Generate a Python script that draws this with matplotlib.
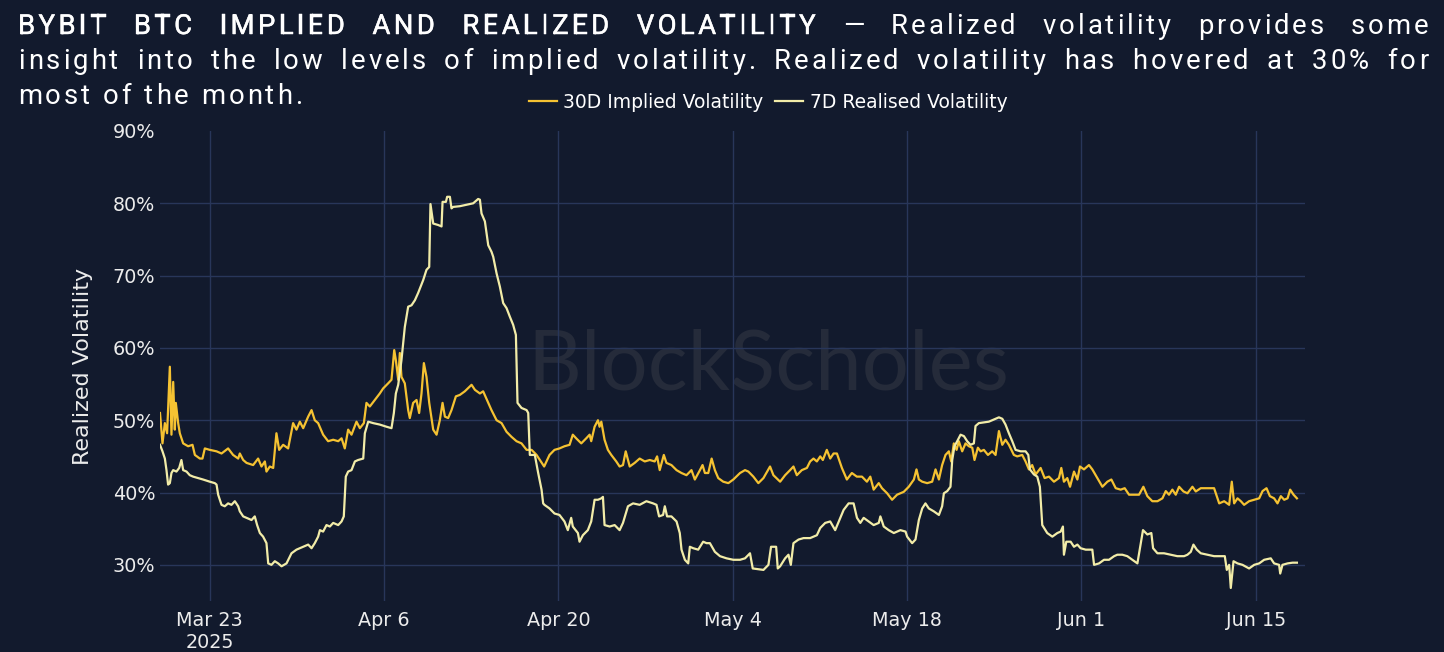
import numpy as np
import matplotlib
matplotlib.use("Agg")
import matplotlib.pyplot as plt
import matplotlib.patheffects as pe
from matplotlib import font_manager, ft2font
from matplotlib.lines import Line2D

# day offsets from 2025-03-23, volatility in %
iv_points = [
    (-4.0, 51.0), (-3.80, 46.8), (-3.61, 49.6), (-3.43, 48.2), (-3.21, 57.4), (-3.08, 48.0), (-2.94, 55.3),
    (-2.81, 48.7), (-2.73, 52.4), (-2.54, 49.6), (-2.41, 48.2), (-2.14, 46.8), (-1.74, 46.4), (-1.39, 46.6),
    (-1.20, 45.2), (-0.80, 44.7), (-0.59, 44.7), (-0.40, 46.1), (0.0, 45.9), (0.54, 45.7), (0.94, 45.4),
    (1.47, 46.1), (1.87, 45.2), (2.28, 44.7), (2.41, 45.4), (2.68, 44.5), (2.95, 44.1), (3.48, 43.8),
    (3.88, 44.7), (4.15, 43.6), (4.42, 44.3), (4.55, 42.9), (4.82, 43.6), (5.09, 43.4), (5.35, 48.2),
    (5.57, 45.9), (5.89, 46.6), (6.29, 46.1), (6.69, 49.6), (6.96, 48.7), (7.23, 49.8), (7.50, 48.9),
    (7.90, 50.5), (8.17, 51.4), (8.43, 50.0), (8.70, 49.6), (9.10, 48.0), (9.50, 47.1), (9.91, 47.3),
    (10.31, 47.1), (10.58, 47.5), (10.84, 46.1), (11.11, 48.7), (11.38, 48.0), (11.78, 49.8), (12.05, 48.9),
    (12.37, 49.6), (12.58, 52.4), (12.85, 51.9), (13.25, 52.8), (13.65, 53.7), (13.92, 54.4), (14.32, 55.1),
    (14.59, 55.6), (14.81, 59.7), (14.94, 58.3), (15.13, 55.6), (15.26, 59.3), (15.39, 56.0), (15.66, 55.1),
    (15.93, 51.4), (16.06, 50.3), (16.33, 52.4), (16.60, 52.8), (16.81, 51.0), (17.00, 53.7), (17.19, 57.9),
    (17.40, 56.0), (17.62, 52.4), (17.94, 48.7), (18.21, 48.0), (18.47, 50.0), (18.69, 52.4), (18.88, 50.5),
    (19.14, 50.3), (19.41, 51.4), (19.76, 53.3), (20.08, 53.5), (20.48, 54.0), (21.02, 54.9), (21.29, 54.2),
    (21.69, 53.7), (21.95, 54.0), (22.36, 52.4), (22.62, 51.4), (23.03, 50.0), (23.43, 49.6), (23.83, 48.4),
    (24.23, 47.7), (24.63, 47.1), (25.03, 46.8), (25.44, 45.9), (25.84, 45.9), (26.24, 45.2), (26.85, 43.6),
    (27.28, 45.2), (27.68, 45.9), (28.08, 46.1), (28.48, 46.4), (28.89, 46.6), (29.15, 48.0), (29.42, 47.5),
    (29.83, 46.8), (30.23, 47.5), (30.50, 48.0), (30.63, 47.1), (30.90, 49.1), (31.17, 50.0), (31.30, 49.1),
    (31.44, 49.8), (31.70, 47.3), (31.97, 45.9), (32.24, 45.2), (32.64, 44.3), (32.91, 43.6), (33.18, 43.8),
    (33.40, 45.7), (33.58, 44.5), (33.72, 43.6), (34.12, 44.1), (34.52, 44.7), (34.93, 44.3), (35.33, 44.5),
    (35.73, 44.3), (35.92, 45.0), (36.13, 43.1), (36.46, 45.2), (36.67, 44.1), (37.07, 43.8), (37.48, 43.1),
    (37.88, 42.7), (38.28, 42.4), (38.68, 43.1), (38.95, 41.8), (39.36, 43.1), (39.57, 43.8), (39.76, 42.7),
    (40.03, 42.7), (40.30, 44.7), (40.56, 43.1), (40.83, 42.0), (41.23, 41.5), (41.64, 41.3), (42.04, 41.8),
    (42.58, 42.7), (42.98, 43.1), (43.25, 42.9), (43.65, 42.2), (44.05, 41.3), (44.46, 42.0), (44.99, 43.6),
    (45.26, 42.4), (45.80, 41.5), (46.20, 42.4), (46.60, 43.1), (46.87, 43.6), (47.14, 42.4), (47.54, 43.1),
    (47.95, 43.4), (48.21, 44.3), (48.48, 44.7), (48.75, 44.3), (49.02, 45.0), (49.23, 44.5), (49.55, 45.9),
    (49.82, 44.7), (50.09, 45.4), (50.36, 45.4), (50.76, 43.4), (51.16, 41.8), (51.56, 42.7), (51.96, 42.2),
    (52.37, 42.2), (52.77, 41.5), (53.04, 42.2), (53.31, 40.4), (53.72, 41.3), (53.98, 40.6), (54.39, 39.9),
    (54.79, 39.0), (55.19, 39.7), (55.73, 40.1), (56.13, 40.8), (56.54, 41.8), (56.75, 43.2), (56.94, 41.8),
    (57.21, 41.5), (57.61, 41.3), (58.01, 41.5), (58.28, 43.2), (58.55, 41.8), (58.81, 43.8), (59.08, 45.2),
    (59.35, 45.7), (59.54, 44.3), (59.75, 46.8), (59.97, 45.9), (60.15, 47.1), (60.42, 45.7), (60.69, 46.8),
    (60.96, 46.4), (61.23, 46.2), (61.41, 44.5), (61.68, 46.2), (61.90, 45.7), (62.16, 45.9), (62.49, 45.2),
    (62.83, 45.7), (63.10, 45.2), (63.37, 48.5), (63.64, 46.6), (63.90, 47.3), (64.17, 46.6), (64.57, 45.2),
    (64.84, 45.0), (65.24, 45.2), (65.51, 44.3), (65.78, 43.2), (66.04, 43.8), (66.32, 42.5), (66.72, 43.4),
    (67.04, 42.0), (67.39, 42.2), (67.79, 41.5), (68.19, 42.0), (68.38, 43.4), (68.59, 41.5), (68.86, 42.0),
    (69.08, 40.8), (69.40, 42.9), (69.67, 41.8), (69.88, 43.6), (70.20, 43.2), (70.60, 43.8), (70.87, 43.2),
    (71.27, 42.0), (71.68, 40.8), (72.08, 41.5), (72.40, 41.8), (72.75, 40.6), (73.15, 40.4), (73.47, 40.6),
    (73.82, 39.7), (74.22, 39.7), (74.62, 39.7), (74.97, 40.8), (75.29, 39.5), (75.69, 38.8), (76.10, 38.8),
    (76.50, 39.2), (76.77, 40.2), (77.03, 39.7), (77.30, 40.4), (77.57, 39.7), (77.84, 40.8), (78.19, 40.15),
    (78.51, 39.9), (78.91, 40.8), (79.18, 40.15), (79.58, 40.6), (80.12, 40.6), (80.65, 40.6), (81.06, 38.5),
    (81.46, 38.8), (81.86, 38.3), (82.07, 41.5), (82.26, 38.5), (82.53, 39.2), (82.80, 38.8), (83.06, 38.3),
    (83.46, 38.8), (83.87, 39.0), (84.27, 39.2), (84.54, 40.2), (84.86, 40.6), (85.13, 39.5), (85.47, 39.2),
    (85.74, 38.5), (86.01, 39.5), (86.28, 39.0), (86.55, 39.2), (86.76, 40.4), (87.03, 39.7), (87.30, 39.2),
]

rv_points = [
    (-4.0, 46.6), (-3.80, 45.7), (-3.61, 44.7), (-3.48, 43.1), (-3.35, 41.1), (-3.21, 41.3), (-3.08, 42.7),
    (-2.94, 43.1), (-2.68, 42.9), (-2.46, 43.4), (-2.28, 44.5), (-2.14, 43.1), (-1.87, 42.9), (-1.61, 42.4),
    (-1.34, 42.2), (-0.94, 42.0), (-0.54, 41.8), (0.0, 41.5), (0.40, 41.3), (0.54, 41.1), (0.67, 39.7),
    (0.94, 38.3), (1.20, 38.1), (1.47, 38.5), (1.74, 38.3), (2.01, 38.8), (2.28, 38.1), (2.41, 37.4),
    (2.68, 36.7), (2.95, 36.5), (3.35, 36.2), (3.61, 36.7), (3.80, 35.5), (4.02, 34.4), (4.28, 33.9),
    (4.55, 33.0), (4.69, 30.2), (4.95, 30.0), (5.22, 30.5), (5.49, 30.2), (5.76, 29.8), (6.16, 30.2),
    (6.56, 31.6), (6.96, 32.1), (7.50, 32.5), (7.90, 32.8), (8.17, 32.3), (8.43, 33.0), (8.70, 33.9),
    (8.84, 34.8), (9.10, 34.6), (9.37, 35.5), (9.64, 35.3), (9.91, 35.8), (10.31, 35.5), (10.58, 36.0),
    (10.76, 36.7), (10.92, 42.2), (11.11, 42.9), (11.38, 43.1), (11.65, 44.3), (11.91, 44.5), (12.32, 44.7),
    (12.45, 48.2), (12.72, 49.8), (13.12, 49.6), (13.65, 49.4), (14.19, 49.1), (14.59, 48.9), (14.78, 51.0),
    (14.94, 53.7), (15.13, 54.9), (15.39, 58.3), (15.66, 62.9), (15.93, 65.7), (16.20, 65.9), (16.47, 66.6),
    (16.73, 67.6), (17.14, 69.4), (17.40, 70.8), (17.62, 71.2), (17.72, 79.9), (17.94, 77.2), (18.34, 77.0),
    (18.61, 76.8), (18.69, 80.2), (18.96, 80.2), (19.06, 80.9), (19.28, 80.9), (19.41, 79.3), (19.54, 79.5),
    (20.08, 79.6), (20.62, 79.8), (21.15, 80.0), (21.55, 80.6), (21.69, 80.5), (21.82, 78.6), (22.09, 77.5),
    (22.36, 74.2), (22.62, 73.3), (22.76, 72.6), (23.03, 70.3), (23.29, 68.5), (23.56, 66.2), (23.83, 65.5),
    (24.10, 64.3), (24.36, 63.2), (24.58, 61.8), (24.71, 52.4), (25.03, 51.7), (25.44, 51.4), (25.57, 51.0),
    (25.70, 45.2), (26.10, 45.2), (26.37, 42.7), (26.64, 40.4), (26.77, 38.5), (26.87, 38.3), (27.28, 37.8),
    (27.68, 37.1), (28.08, 36.9), (28.48, 36.0), (28.75, 34.8), (29.02, 36.5), (29.15, 35.3), (29.56, 34.4),
    (29.69, 33.2), (29.96, 34.1), (30.36, 34.8), (30.63, 36.0), (30.90, 39.0), (31.17, 39.0), (31.44, 39.2),
    (31.57, 39.4), (31.70, 35.5), (32.11, 35.3), (32.51, 35.5), (32.91, 34.8), (33.18, 35.8), (33.58, 38.1),
    (33.99, 38.5), (34.52, 38.3), (35.06, 38.8), (35.60, 38.5), (35.87, 38.3), (36.08, 36.7), (36.40, 36.9),
    (36.54, 38.1), (36.72, 36.7), (37.07, 36.7), (37.48, 36.0), (37.74, 34.4), (37.88, 32.1), (38.15, 30.7),
    (38.42, 30.2), (38.55, 32.5), (38.82, 32.3), (39.22, 32.1), (39.62, 33.2), (39.89, 33.0), (40.16, 33.0),
    (40.56, 31.8), (40.97, 31.2), (41.50, 30.9), (42.04, 30.7), (42.58, 30.7), (42.98, 30.9), (43.38, 31.6),
    (43.60, 29.5), (44.05, 29.4), (44.46, 29.3), (44.86, 30.0), (45.07, 32.5), (45.26, 32.5), (45.48, 32.5),
    (45.61, 29.5), (45.80, 29.8), (46.20, 30.9), (46.47, 31.4), (46.66, 30.0), (46.87, 33.0), (47.28, 33.5),
    (47.68, 33.7), (48.21, 33.7), (48.75, 34.1), (49.02, 35.1), (49.42, 35.8), (49.82, 36.0), (50.22, 34.8),
    (50.63, 36.5), (50.90, 37.6), (51.30, 38.5), (51.70, 38.5), (51.97, 36.5), (52.24, 35.8), (52.51, 36.5),
    (52.91, 36.0), (53.31, 35.5), (53.72, 35.8), (53.85, 36.7), (54.12, 35.3), (54.52, 34.8), (54.93, 34.4),
    (55.46, 34.8), (55.87, 34.6), (56.00, 33.9), (56.40, 33.0), (56.67, 33.5), (56.94, 36.2), (57.21, 37.8),
    (57.47, 38.5), (57.74, 37.8), (58.14, 37.4), (58.55, 36.9), (58.81, 38.1), (58.95, 39.9), (59.22, 40.2),
    (59.48, 40.8), (59.62, 44.5), (59.80, 46.4), (60.02, 47.1), (60.29, 48.0), (60.56, 47.8), (60.82, 47.1),
    (61.09, 46.6), (61.36, 46.8), (61.49, 49.2), (61.76, 49.6), (62.16, 49.7), (62.56, 49.8), (62.97, 50.1),
    (63.37, 50.4), (63.64, 50.2), (63.90, 49.4), (64.17, 48.2), (64.44, 47.1), (64.71, 45.9), (65.11, 45.7),
    (65.51, 45.7), (65.73, 45.2), (65.86, 43.2), (66.18, 42.5), (66.45, 42.2), (66.66, 40.8), (66.85, 35.5),
    (67.25, 34.4), (67.66, 33.9), (68.06, 34.4), (68.33, 34.6), (68.51, 35.3), (68.59, 31.4), (68.78, 33.2),
    (69.13, 33.2), (69.40, 32.5), (69.67, 32.8), (69.93, 32.3), (70.34, 32.1), (70.87, 32.1), (71.01, 30.0),
    (71.41, 30.2), (71.81, 30.7), (72.21, 30.7), (72.62, 31.2), (72.88, 31.4), (73.28, 31.4), (73.68, 31.2),
    (74.09, 30.7), (74.49, 30.2), (74.76, 33.0), (74.94, 34.8), (75.29, 34.2), (75.61, 34.4), (75.75, 32.3),
    (76.10, 31.6), (76.63, 31.6), (77.17, 31.4), (77.70, 31.2), (78.24, 31.2), (78.51, 31.4), (78.78, 31.8),
    (78.99, 32.8), (79.26, 32.1), (79.58, 31.6), (80.12, 31.4), (80.65, 31.2), (81.18, 31.2), (81.51, 31.2),
    (81.67, 29.3), (81.86, 30.0), (81.99, 26.8), (82.21, 30.5), (82.53, 30.2), (82.93, 30.0), (83.46, 29.5),
    (83.87, 30.0), (84.27, 30.2), (84.67, 30.7), (85.20, 30.9), (85.47, 30.2), (85.87, 30.0), (85.96, 28.8),
    (86.14, 30.0), (86.55, 30.2), (86.95, 30.3), (87.30, 30.3),
]

tick_dates = ["2025-03-23", "2025-04-06", "2025-04-20", "2025-05-04", "2025-05-18", "2025-06-01", "2025-06-15"]
tick_labels = ["Mar 23\n2025", "Apr 6", "Apr 20", "May 4", "May 18", "Jun 1", "Jun 15"]
y_ticks = [30, 40, 50, 60, 70, 80, 90]

title_head = "BYBIT BTC IMPLIED AND REALIZED VOLATILITY"
title_lines = [
    title_head + " \u2014 Realized volatility provides some",
    "insight into the low levels of implied volatility. Realized volatility has hovered at 30% for",
    "most of the month.",
]

BG = "#121a2d"
GRID = "#28365a"
IV_COL = "#f5c232"
RV_COL = "#f2eca8"
W, H = 1444, 652

base = np.datetime64("2025-03-23T00:00")


def to_dates(points):
    d = np.array([p[0] for p in points])
    v = np.array([p[1] for p in points])
    t = base + (d * 24 * 60).round().astype("timedelta64[m]")
    return t.astype("datetime64[ms]").astype(object), v


iv_t, iv_v = to_dates(iv_points)
rv_t, rv_v = to_dates(rv_points)

fig = plt.figure(figsize=(W / 100, H / 100), dpi=100, facecolor=BG)
ax = fig.add_axes([160 / W, 51 / H, 1145 / W, 470 / H])
ax.set_facecolor(BG)

ax.plot(iv_t, iv_v, color=IV_COL, lw=1.6, zorder=3)
ax.plot(rv_t, rv_v, color=RV_COL, lw=1.6, zorder=3)

x0 = (base - np.timedelta64(4, "D")).astype("datetime64[ms]").astype(object)
x1 = (base + np.timedelta64(int(87.95 * 24 * 60), "m")).astype("datetime64[ms]").astype(object)
ax.set_xlim(x0, x1)
ax.set_ylim(25, 90)

ax.set_xticks([np.datetime64(d).astype("datetime64[ms]").astype(object) for d in tick_dates])
ax.set_xticklabels(tick_labels)
ax.set_yticks(y_ticks)
ax.set_yticklabels([f"{v}%" for v in y_ticks])

ax.set_axisbelow(True)
ax.grid(True, color=GRID, lw=1.0)
ax.yaxis.get_gridlines()[-1].set_visible(False)
for s in ax.spines.values():
    s.set_visible(False)
ax.tick_params(axis="both", length=0, labelcolor="#ececec", labelsize=13.8)
ax.tick_params(axis="x", pad=7)
ax.tick_params(axis="y", pad=3.5)

ax.set_ylabel("Realized Volatility", color="#ececec", fontsize=16)
ax.yaxis.set_label_coords(-0.0585, 0.5)

# watermark
ax.text(0.531, 0.5, "BlockScholes", transform=ax.transAxes, ha="center", va="center",
        fontsize=60, family="Lato", color="#252b3a", zorder=0.3)

# legend
handles = [Line2D([], [], color=IV_COL, lw=1.6), Line2D([], [], color=RV_COL, lw=1.6)]
fig.legend(handles, ["30D Implied Volatility", "7D Realised Volatility"], loc="center",
           bbox_to_anchor=(768 / W, 1 - 102 / H), ncol=2, frameon=False, fontsize=13.5,
           handlelength=1.5, handletextpad=0.35, columnspacing=0.6, labelcolor="white")

# title: tracked, justified lines drawn glyph by glyph
tsize = 19.8
fp = font_manager.FontProperties(family="Roboto", size=tsize)
ft = ft2font.FT2Font(font_manager.findfont(fp))
ft.set_size(tsize, 100)
track = {"head": 3.4, "body": 3.0}
heavy = [pe.withStroke(linewidth=0.35, foreground="white")]


def adv(ch):
    return ft.load_char(ord(ch)).linearHoriAdvance / 65536


left, right = 18, 1428
baselines = [34, 69, 104]
for i, line in enumerate(title_lines):
    n_head = len(title_head) if i == 0 else 0
    styles = ["head" if j < n_head else "body" for j in range(len(line))]
    n_sp = line.count(" ")
    natural = sum(adv(c) + track[k] for c, k in zip(line, styles)) - track[styles[-1]]
    extra = (right - left - natural) / n_sp if i < len(title_lines) - 1 else 0
    x = left
    for c, k in zip(line, styles):
        if c != " ":
            fig.text(x / W, 1 - baselines[i] / H, c, fontproperties=fp, color="white",
                     ha="left", va="baseline", path_effects=heavy if k == "head" else None)
            x += adv(c) + track[k]
        else:
            x += adv(c) + track[k] + extra

fig.savefig("out.png", dpi=100, facecolor=BG)
